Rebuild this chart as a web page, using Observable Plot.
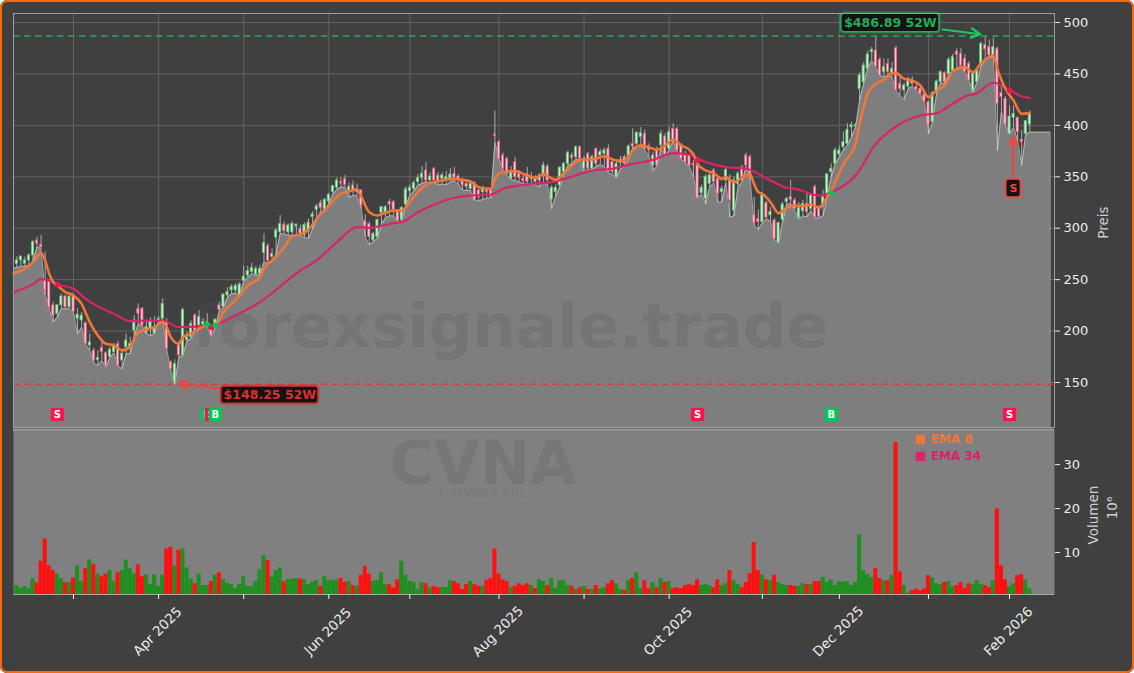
<!DOCTYPE html>
<html><head><meta charset="utf-8">
<script src="https://cdn.jsdelivr.net/npm/d3@7"></script>
<script src="https://cdn.jsdelivr.net/npm/@observablehq/plot@0.6"></script>
<style>
html,body{margin:0;padding:0;background:#fff;width:1134px;height:673px;overflow:hidden}
#fig{position:relative;width:1134px;height:673px;background:#404040;border-radius:7px;overflow:hidden}
#fig svg{display:block}
#edge{position:absolute;inset:0;border:2.5px solid #fb6a08;border-radius:7px;pointer-events:none;box-sizing:border-box}
</style></head><body>
<div id="fig"><div id="edge"></div></div>
<script>
const firstBar = -14;
const opens = [265.4,268.6,265.4,268.6,273.5,288,284,249,247.6,225,
216.8,225,233.6,223,234.6,212,210.3,207.7,186,181,
172,183.8,178.6,174.7,179.5,187.6,171.4,184.4,182.8,200.6,
221.7,221.7,197.8,202,197.8,210,212,208.7,169.8,150.4,
186,176.3,191,194,215.2,205.5,206.4,205.5,203.8,207,
225,223.3,234.6,239.5,239.5,234.6,248.6,254,257.3,255,
255.6,275.8,282.6,272,291,296,303.3,296,296,301.7,
299.4,293,296,310.8,317.9,324.4,317.9,326,335,339.3,
345,347.7,336.7,341.6,335,336.7,306.9,304.3,288.1,291.3,
315,315.6,325.4,325.4,315.6,308.2,323,336,338.3,344.8,
349,356.1,346.4,357.8,351.3,348,346.4,346.4,352.9,350.3,
345.8,343.2,338.3,344,336.7,335,337.4,336.7,391.1,383.7,
370.7,367.5,348,364.2,352.9,348,352.9,348,348,346.4,
351.3,360,327.6,335.1,341.6,354.5,362.6,370.7,369,378.8,
357.8,372.4,357.8,377.2,370.7,372.4,377.2,364.3,349.7,363.3,
369,369,382,382,388.6,391.8,378.8,361,377.2,380.5,
389.2,377.2,396.7,396.7,380.5,372.4,370.7,362.6,361,334.1,
328.6,343.2,356,348,335.1,346.4,346.4,317,343.2,359.4,
370.7,369,313,309,305.9,324.4,312.4,307.6,285.9,308.2,
325.4,330.2,327,310.2,316.6,323.8,318.9,340,319.9,320.5,
332,354.5,362.6,371.7,378.8,382,398,399,435.5,442,
455,471.2,472.8,463.7,451.7,459.8,450,475,440.4,434,
437.8,443.6,437.2,435.5,430,422.6,403.1,431.3,442,450.8,
449.5,453.4,471.8,469.6,464.7,459.8,433.3,442,458.2,478.3,
476,468,474.4,431.3,425.8,391.8,407.4,407.4,386,391.8,400.9];
const closes = [268.6,272.5,268.6,273.5,286.5,285,281.5,240,223.3,215,
225,233.6,223,233.6,218.4,216,215,187.6,189,171.4,
173.7,179.5,166.6,182,185,166.6,178,190.9,187.6,210.3,
216.8,205.5,203.8,210,203.8,212,226.5,182.8,163.3,168,
176.3,220.7,194,207,200.6,213.6,208.7,208.7,195.7,211,
220.7,235.6,237.9,242.7,244,245.3,253,258.3,261.5,260.5,
260.5,285.5,268,275,297.8,304,297,302.7,304.3,303.6,
294.6,303.3,305.3,313.4,321.2,319.9,327.6,332.5,340.9,346.4,
343.5,341.9,340,336.7,338,322,301.7,291.3,294.6,308,
320.5,320.5,323,317.9,306.9,319.9,337.7,339.3,343.8,349,
352.9,346.4,350.3,346.4,346.4,351.3,349.6,352.2,349,347.7,
341.6,340,343.2,327,330.2,337.7,335,330.9,389.7,367.5,
357.8,352.9,354.5,349.7,349,345.8,344.8,350.3,344.8,351.3,
361,346.4,339.3,339.3,358.8,362.6,373.3,368.5,378.8,367.5,
367.5,357.8,369,362.6,374,375.6,354.5,354.5,362.6,365.9,
362.6,379.5,379.5,392.8,392.4,377.2,375.6,370.7,361,391.8,
370.7,393.4,386,375.6,367.5,364.3,361,361,329.3,339.3,
349.7,351.3,344.8,333.5,338.3,356.8,327,346.4,353,349.7,
361,349.7,305,305.9,331.9,310.2,315.7,289.7,305,323.1,
328.3,327.6,318.9,319.5,323.8,315.6,331.9,310.8,310.8,330.2,
352.3,357.8,375.6,375.6,383.7,395.7,400,400,448.5,458.2,
468.9,473.4,457.2,448.5,456.6,451.7,455,434,435.5,438.8,
442.7,440.4,434.6,430.7,423.2,400.5,431.3,442.7,451.7,442,
463.7,466.3,468.6,458.2,451.7,443.6,450.1,453.4,479.3,473.8,
468,476,421,427.4,400.9,408.6,411.2,393.4,383.7,404.1,412.2];
const highs = [272,273,272,275,288,291,293,277,250,228,
226,236,235,235,236,222,218,209,197,183,
181,191.5,180,184,188,190,181,197.4,194,215,
226.5,223,210,213,214,214,231.4,212,171,172,
190,222,199,210,216.8,220,212,217,206,212,
228,236,242,245,246,247,263,263,266,263,
264,294.6,285,280,299.4,312.4,306,304.3,306.9,304,
303,305,309,316,323,327,329,334,342,349,
349,351.3,343.8,345.8,343,337.4,313,306,296,309,
321.2,322,328,327,318,321,340,342,346,352,
360,364,354,359,354,353.6,355,357.8,359,352,
348,346,345,345,338,341,339,338,413.8,385,
373,369,360,369,356,351,359,354,351,352.9,
364,362,341.6,342,360,364,375,373,380,380,
370,373.6,371,378,377,378,381,367,366,370,
371,381,396.6,394,398,395.7,382,374,379,395,
392,398.3,401.5,398,382,375,372,366,362,342,
352,354.5,358,350,341,358,352,350,355,361,
373,371,330,318,333,326,320,309,306,325,
330,346.4,329,325,327,335,333,341.9,322,337,
353,362.6,378,380,393.4,401.5,403.1,401.5,451,461,
472,476,486.4,466,464.7,464.7,461.5,477,447,441,
447,447,441,437,433,424,433,444,453,452,
466,469,474.4,474.4,469,462,452,456,481,486.89,
483,485,476,438,428,419,419,408,395,405,414];
const lows = [261.5,263,263,264,268,282,280,234.5,221.7,208.7,
213.5,221.7,221.7,221.7,218,197.4,203.8,187,181,168.8,
166.6,171.4,165,174,179,166,163.3,178,178,195.7,
207,204.8,197.4,195.7,197.4,209.5,211,182.5,161.7,148.25,
174.7,176,190.5,192.5,200,203.8,205.5,203.8,194.8,203.8,
220,222.6,233,236.2,236.9,234,248.2,252,255.7,254,
255,267,266,267,275,294.6,294.6,293,293,293,
293,290.9,290,299.4,309,316,316,324,333,337.5,
340,340,330,331.8,331.8,318.9,291.3,284,287,290,
304.3,310,312,312,306,307,322,332,336,342,
343.2,345.5,343,345,342,343,342,345,346,343,
337,336.7,337,326.8,326.5,328,329,329.5,383.7,367,
356,351,347,346.4,345,343,343,343,342.5,340,
344,342,318.9,331,340,352,361,362.6,367,366.5,
355,357,357,360,362,360,354,352,349,358,
360,367,378,380,380,376,370,356,360,378,
370,376,385,375,367,363,360.5,349.7,329,333,
323.8,340,344,325.4,325.4,344,310.8,312,340,345,
360,347,303,298.5,305,309,307,289,285.8,306,
323,324,317,309,312,311,317,310,310,312,
331,349.7,362.6,369,375.6,380.5,388.6,398.3,424,440.4,
455,463,456.6,448.5,447,448.5,447,433.9,429,425,
435.5,437.8,433.9,429.7,423,391.8,403,430.7,441.5,440.4,
449.5,453.4,455,458,451.5,443.5,432.3,442,458,463,
466,466,375.6,412.9,400,391.5,398,385.3,361,391.5,393.4];
const volumes = [2.5,1.9,2.3,1.8,4,3.1,8,13.1,7,5.9,
5.1,4,3.1,3.1,4.2,7,3.4,6.3,8.3,7.3,
5.1,4.5,5.1,5.9,3.4,5.4,5.9,8.3,6.3,5.1,
7.2,4.5,4.9,2.7,4.9,2.3,4.8,10.8,11.2,7,
10.5,10.8,6.5,4,2.9,5.1,2.5,2.5,3.4,4.9,
5.4,3.8,3,2.7,1.8,2.7,4.5,2.3,2.3,3.4,
6,9.3,8.2,4.4,5.9,6.5,3.4,3.9,3.9,4.1,
4,3.8,2.7,3.2,3.6,2.3,4.5,3.6,3.6,3.8,
4.1,3.2,3.4,2.5,2.3,4.8,6.8,5.1,3.4,3.6,
5.4,2.7,2.7,2,3.8,8,4.8,3.4,3.2,1.6,
3.2,2.9,2,2.3,2,2,2,3.6,3.4,2.9,
1.6,2.7,3.4,2.7,2.3,2.3,3.6,4.1,10.8,5.1,
3.8,3.4,2,2.3,2.9,2.5,2.9,2.5,1.8,3.8,
3.4,2.5,4.1,1.8,3.6,3.6,2.5,2.3,1.6,2,
2.3,1.6,1.6,2.5,1.8,2,2.9,3.6,2.9,1.6,
1.4,3.6,4.1,5.4,1.8,3.6,1.8,3.2,2,4.1,
3.2,3.4,1.8,2,1.8,2.5,2.7,2.5,3.8,2.5,
2.7,2.5,2,3.8,2.5,2.9,5.9,3.6,2.7,2,
3.2,5.2,12.3,5.9,4.9,3.8,3.6,4.8,3.2,2.7,
2.5,2.5,2.3,2.3,2.9,2.7,2.7,3.4,3.4,4.4,
3.2,3.8,2.5,3.4,3.2,3.4,2.5,3.2,14,5.9,
5,4.3,6.3,4.1,3.6,3.6,4.8,35,5.6,2.5,
0.8,1.3,1.7,1.3,1.7,4.75,4.3,2.9,2.7,3.2,
3.4,2.2,2.5,3.2,1.8,2.9,2.7,3.6,2.7,2.5,
2,3.6,19.9,7,3.8,2.2,2.9,4.75,5,3.8,1.7];

const ema8Idx = [-14.8,-14,-12,-10,-8,-7,-6,-5,-4,-2,0,2,4,6,8,10,12,14,16,18,20,22,23,24,26,27,29,31,33,35,37,39,41,43,46,47,50,52,54,56,58,60,63,66,68,70,71,73,75,77,79,81,83,85,87,89,91,93,96,98,100,103,104,105,107,109,112,114,116,119,121,123,125,128,131,134,136,138,140,142,144,146,148,150,152,153,154,156,158,160,161,163,165,167,168,169,170,172,174,176,178,180,182,184,186,187,190,193,194,196,198,200,202,203,205,207,209,211,213,215,217,220,222,224,227,228,230,232,234,236];
const ema8Val = [256.5,257.3,260.5,267,275.8,268.6,255.7,247.6,244.3,237.9,234.6,226.5,208.7,195.7,187.6,186,181.2,185,199,201.2,203.8,208.7,203.8,194.1,187.6,194.1,197.4,202.2,205.5,205.5,218.4,226.5,234.6,244.3,252.4,260.6,271.9,281.6,292.3,294,298.5,309.2,322.1,333.5,336,337.7,330.9,315.6,312.4,315,317.2,317.2,325.4,335.1,342.2,344.8,346.4,348,347,345.4,339.9,338.3,348,353.5,355.2,355.5,351.3,349,352.3,347,353.6,361,366.5,366.9,369.8,365.9,365.9,375.6,380.5,378.8,376.2,380.5,386,380.5,376.2,371.7,362.6,356.2,353.6,348,349.7,344.8,349,352.3,342.6,335.1,333.5,325.4,314.7,319.9,322.1,321.5,323.1,319.9,330.2,336.7,362.6,382,401.5,430.7,440.4,444.3,450.8,450.8,445.3,443.6,438.8,427.4,433.9,438.8,452.7,456.6,451.7,460.5,467.9,455,435.5,424.2,411.2,411.9];
const ema34Idx = [-14.8,-10,-8,-6,-4,0,3,6,10,14,18,22,26,31,35,40,46,56,60,65,70,73,79,81,85,89,94,98,103,106,110,115,118,123,128,133,138,143,148,152,156,161,166,172,176,178,184,187,193,198,203,209,213,217,220,223,227,231,234,236];
const ema34Val = [237.9,245.6,250.8,249.2,245.3,241.1,231.4,224,216.8,209.7,210.3,210.3,203.8,204.5,206.4,215.2,228.1,258.9,268.7,286.5,301,300.4,305,305.9,315.6,323.1,329.6,331.8,332.8,338.3,341.6,343.8,344.8,350.3,356.2,357.8,362.6,366.5,373,371.4,364.3,359.4,357.8,346.4,339.3,338.3,331.8,335,351.3,382,398.9,409.6,411.9,421,428.1,431.3,441.4,434.6,428.1,426.8];

const priceTicks = [150,200,250,300,350,400,450,500];
const volumeTicks = [10,20,30];
const monthIdx = [0,21,42,63,83,105,126,147,170,189,211,231];
const dateLabelIdx = [21,63,105,147,189,231];
const dateLabels = ["Apr 2025","Jun 2025","Aug 2025","Oct 2025","Dec 2025","Feb 2026"];
const high52 = 486.89, low52 = 148.25;
const areaEndIdx = 241, areaEndPrice = 393.4;
const signalIdx = [-4,33,34,35,154,187,231];
const signalType = ["S","B","S","B","S","B","S"];
const crossIdx = [-3.9,33,34,35,154,187,231];
const crossPrice = [245,206.4,203.8,205.5,366,334.5,434];
const crossType = ["S","B","S","B","S","B","S"];

const xDomain = [-14.81,242.1], priceDomain = [106.25,508.75], volumeDomain = [0.45,38];
const signalLevel = 118.9;
const colors = {up:"#5cc470",upFill:"#d4efd8",down:"#f0527a",downFill:"#fbd3dc",vUp:"#1f8f1f",vDown:"#ff1010",
  ema8:"#f0763a",ema34:"#d9246a",buy:"#00c853",sell:"#f5154f",boxGreen:"#27ab55",boxRed:"#dd2f2f",arrowGreen:"#22c55e",arrowRed:"#ef4444"};
const tickText = "#ececec", labelText = "#cfcfcf";
const watermarkFill = "#535353", watermarkOpacity = 0.2;

const bars = opens.map((o,k)=>({i:k+firstBar,o,c:closes[k],h:highs[k],l:lows[k],v:volumes[k]}));
const ups = bars.filter(d=>d.c>=d.o), downs = bars.filter(d=>d.c<d.o);
const areaData = [{i:xDomain[0],l:lows[0]},...bars,{i:areaEndIdx,l:areaEndPrice}];
const edgeData = [...areaData,{i:areaEndIdx,l:priceDomain[0]}];
const ema8 = ema8Idx.map((i,k)=>({i,v:ema8Val[k]}));
const ema34 = ema34Idx.map((i,k)=>({i,v:ema34Val[k]}));
const crosses = crossIdx.map((i,k)=>({i,p:crossPrice[k],t:crossType[k]}));
const chartFont = {fontFamily:"'DejaVu Sans',sans-serif",fontSize:"13px",background:"transparent",overflow:"visible"};

const signalMarks = signalIdx.flatMap((i,k)=>{
  const d=[{i,y:signalLevel}], buy=signalType[k]==="B";
  return [
    Plot.dot(d,{x:"i",y:"y",symbol:"square",r:7.4,fill:buy?colors.buy:colors.sell}),
    Plot.text(d,{x:"i",y:"y",text:()=>signalType[k],fill:"#fff",fontWeight:"bold",fontSize:10})
  ];
});
function boxMarks(x1,x2,y1,y2,color,label,tx,ty,size){
  const d=[{x1,x2,y1,y2}];
  return [
    Plot.rect(d,{x1:"x1",x2:"x2",y1:"y1",y2:"y2",stroke:color,strokeWidth:4,strokeOpacity:.3,rx:3}),
    Plot.rect(d,{x1:"x1",x2:"x2",y1:"y1",y2:"y2",fill:"#141414",stroke:color,strokeWidth:1.5,rx:3}),
    Plot.text([label],{x:[tx],y:[ty],fill:color,fontWeight:"bold",fontSize:size})
  ];
}
const arrowOpts = {x1:"x1",y1:"y1",x2:"x2",y2:"y2",strokeWidth:2.2,headLength:7,headAngle:55};

const pricePlot = Plot.plot({
  width:1134,height:428,marginLeft:13,marginRight:80,marginTop:13,marginBottom:1,style:chartFont,
  x:{domain:xDomain,axis:null},
  y:{domain:priceDomain},
  marks:[
    Plot.gridY(priceTicks,{stroke:"#626262",strokeOpacity:1}),
    Plot.gridX(monthIdx,{stroke:"#626262",strokeOpacity:1}),
    Plot.areaY(areaData,{x:"i",y1:()=>priceDomain[0],y2:"l",fill:"#808080",fillOpacity:.98}),
    Plot.text(["forexsignale.trade"],{frameAnchor:"middle",textAnchor:"middle",lineAnchor:"middle",dx:-24,dy:107,fontSize:61,fontWeight:"bold",fill:watermarkFill,fillOpacity:watermarkOpacity}),
    Plot.line(edgeData,{x:"i",y:"l",stroke:"#cfcfcf",strokeWidth:1,strokeOpacity:.7}),
    Plot.ruleX(bars,{x:"i",y1:"l",y2:"h",stroke:"#d6d6d6",strokeWidth:.9,strokeOpacity:.8}),
    Plot.rect(ups,{x1:d=>d.i-.27,x2:d=>d.i+.27,y1:"o",y2:"c",fill:colors.upFill,stroke:colors.up,strokeWidth:.8}),
    Plot.rect(downs,{x1:d=>d.i-.27,x2:d=>d.i+.27,y1:"o",y2:"c",fill:colors.downFill,stroke:colors.down,strokeWidth:.8}),
    Plot.ruleY([high52],{stroke:colors.boxGreen,strokeWidth:1.5,strokeDasharray:"6.5,4.5"}),
    Plot.ruleY([low52],{stroke:"#d93a3a",strokeWidth:1.5,strokeDasharray:"6.5,4.5"}),
    Plot.line(ema34,{x:"i",y:"v",stroke:colors.ema34,strokeWidth:2.2,curve:"monotone-x"}),
    Plot.line(ema8,{x:"i",y:"v",stroke:colors.ema8,strokeWidth:2.6,curve:"monotone-x"}),
    Plot.dot(crosses.filter(d=>d.t==="S"),{x:"i",y:"p",r:2.8,fill:colors.sell}),
    Plot.dot(crosses.filter(d=>d.t==="B"),{x:"i",y:"p",r:2.8,fill:colors.buy}),
    Plot.arrow([{x1:214.5,y1:493.2,x2:223.8,y2:488.6}],{...arrowOpts,stroke:colors.arrowGreen}),
    Plot.arrow([{x1:35.8,y1:144.2,x2:25.9,y2:149}],{...arrowOpts,stroke:colors.arrowRed}),
    Plot.arrow([{x1:231.9,y1:351.3,x2:231.9,y2:389.2}],{...arrowOpts,stroke:colors.arrowRed}),
    ...boxMarks(189.5,213.7,508.5,490.6,colors.boxGreen,"$486.89 52W",201.6,499.5,12.5),
    ...boxMarks(36.45,60.46,146.1,129.3,colors.boxRed,"$148.25 52W",48.45,137.7,12.5),
    ...boxMarks(230.2,233.8,347.4,329.9,colors.arrowRed,"S",232,338.6,11),
    ...signalMarks,
    Plot.frame({stroke:"#9c9c9c",strokeWidth:1}),
    Plot.axisY({anchor:"right",ticks:priceTicks,tickSize:5,tickPadding:4,label:null,color:tickText,fontSize:13}),
    Plot.text(["Preis"],{frameAnchor:"right",textAnchor:"middle",lineAnchor:"middle",dx:49,dy:2,rotate:-90,fill:labelText,fontSize:13.5})
  ]
});

const volumePlot = Plot.plot({
  width:1134,height:245,marginLeft:13,marginRight:80,marginTop:1,marginBottom:79,style:chartFont,
  x:{domain:xDomain,axis:null},
  y:{domain:volumeDomain},
  marks:[
    Plot.frame({fill:"#808080"}),
    Plot.text(["CVNA"],{frameAnchor:"middle",textAnchor:"middle",lineAnchor:"middle",dx:-51,dy:-47,fontSize:60,fontWeight:"bold",fill:watermarkFill,fillOpacity:watermarkOpacity}),
    Plot.text(["Carvana Inc."],{frameAnchor:"middle",textAnchor:"middle",lineAnchor:"middle",dx:-51,dy:-19,fontSize:14,fill:watermarkFill,fillOpacity:watermarkOpacity}),
    Plot.rect(bars.filter(d=>d.c>=d.o),{x1:d=>d.i-.5,x2:d=>d.i+.5,y1:()=>volumeDomain[0],y2:"v",fill:colors.vUp}),
    Plot.rect(bars.filter(d=>d.c<d.o),{x1:d=>d.i-.5,x2:d=>d.i+.5,y1:()=>volumeDomain[0],y2:"v",fill:colors.vDown}),
    Plot.dot([{x:209,y:35.7}],{x:"x",y:"y",symbol:"square",r:5.3,fill:colors.ema8}),
    Plot.dot([{x:209,y:31.9}],{x:"x",y:"y",symbol:"square",r:5.3,fill:colors.ema34}),
    Plot.text(["EMA 8"],{x:[211.6],y:[35.7],textAnchor:"start",fill:colors.ema8,fontWeight:"bold",fontSize:12}),
    Plot.text(["EMA 34"],{x:[211.6],y:[31.9],textAnchor:"start",fill:colors.ema34,fontWeight:"bold",fontSize:12}),
    Plot.ruleY([volumeDomain[1]],{stroke:"#9c9c9c",strokeWidth:2}),
    Plot.ruleY([volumeDomain[0]],{stroke:"#a8a8a8",strokeWidth:1}),
    Plot.axisX({ticks:monthIdx,tickSize:5,tickFormat:()=>"",label:null,color:"#f2f2f2"}),
    Plot.axisY({anchor:"right",ticks:volumeTicks,tickSize:5,tickPadding:4,label:null,color:tickText,fontSize:13}),
    Plot.text(dateLabels,{x:dateLabelIdx,frameAnchor:"bottom",textAnchor:"middle",lineAnchor:"middle",rotate:-45,dx:-1,dy:37,fill:tickText,fontSize:13.5}),
    Plot.text(["Volumen"],{frameAnchor:"right",textAnchor:"middle",lineAnchor:"middle",dx:39,dy:3,rotate:-90,fill:labelText,fontSize:13.5}),
    Plot.text(["10⁶"],{frameAnchor:"right",textAnchor:"middle",lineAnchor:"middle",dx:58,dy:-4,rotate:-90,fill:labelText,fontSize:13.5})
  ]
});
const fig = document.getElementById("fig");
fig.insertBefore(volumePlot,fig.firstChild);
fig.insertBefore(pricePlot,fig.firstChild);
</script>
</body></html>
